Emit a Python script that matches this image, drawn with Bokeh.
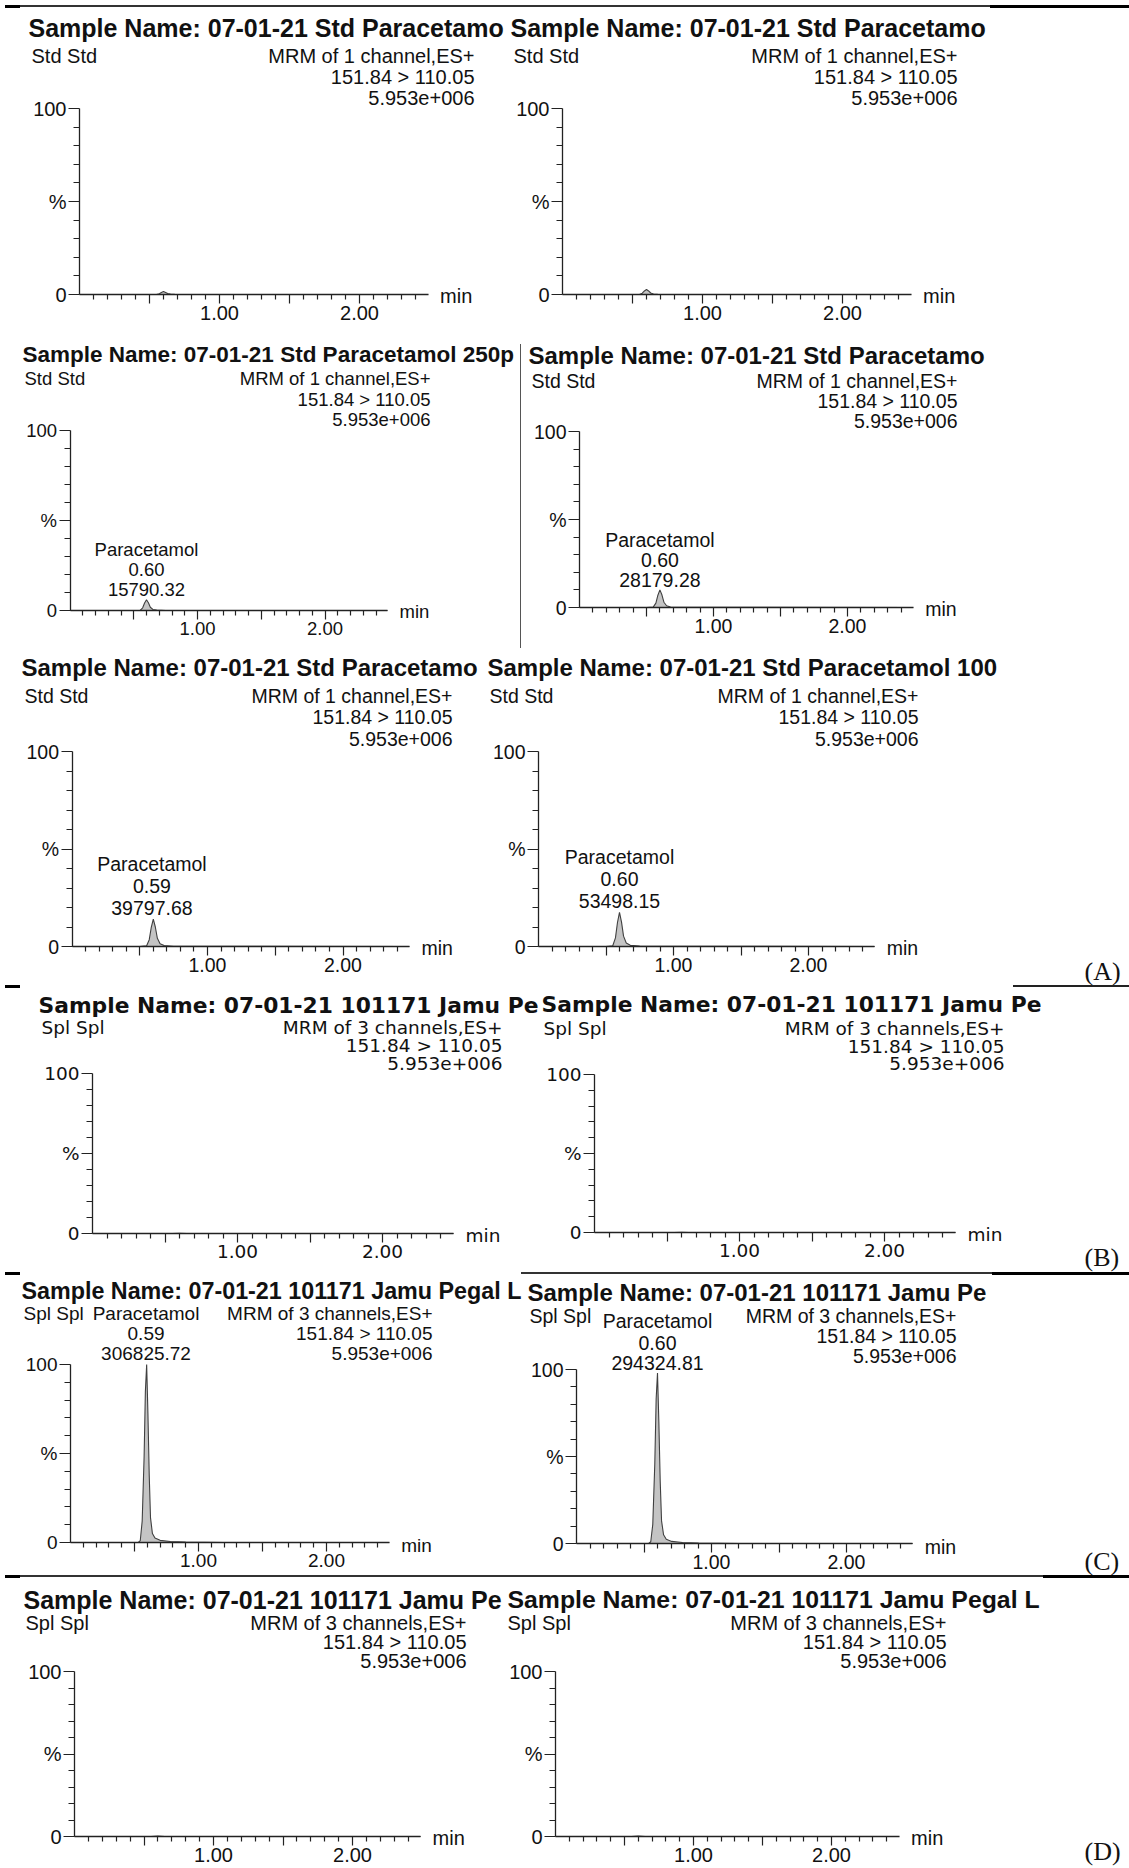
from bokeh.plotting import figure
from bokeh.layouts import row, column
from bokeh.models import Range1d, FixedTicker, Label, Div
from bokeh.embed import file_html
from bokeh.resources import INLINE

# ---------------- data ----------------
# retention time (min) of the standard traces (panel A)
t_std = [0.00, 0.50, 0.55, 0.57, 0.585, 0.60, 0.615, 0.63, 0.65, 0.68, 0.75, 2.49]
# intensity, % of 5.953e+006
i_std_1 = [0, 0, 0, 0.4, 1.1, 1.6, 1.1, 0.5, 0.2, 0.05, 0, 0]
i_std_2 = [0, 0, 0, 0.7, 1.9, 2.7, 1.9, 0.8, 0.3, 0.1, 0, 0]
i_std_3 = [0, 0, 0.1, 1.5, 4.2, 6.0, 4.3, 1.8, 0.6, 0.2, 0, 0]
i_std_4 = [0, 0, 0.2, 2.5, 7.0, 10.0, 7.2, 3.0, 1.0, 0.3, 0.1, 0]
i_std_5 = [0, 0, 0.3, 3.5, 9.8, 14.0, 10.0, 4.2, 1.4, 0.5, 0.1, 0]
i_std_6 = [0, 0, 0.4, 4.4, 12.3, 17.5, 12.5, 5.3, 1.8, 0.6, 0.2, 0]
# spiked sample traces (panel C)
t_spl_1 = [0.00, 0.53, 0.545, 0.56, 0.575, 0.585, 0.595, 0.605, 0.615, 0.625, 0.64, 0.66, 0.70, 0.78, 0.90, 1.20, 2.49]
i_spl_1 = [0, 0, 1, 12, 48, 85, 100, 72, 38, 14, 5, 2.5, 1.2, 0.6, 0.3, 0, 0]
t_spl_2 = [0.00, 0.535, 0.55, 0.565, 0.58, 0.59, 0.60, 0.61, 0.62, 0.63, 0.645, 0.665, 0.705, 0.785, 0.905, 1.205, 2.49]
i_spl_2 = [0, 0, 1, 11, 46, 83, 98, 70, 36, 13, 5, 2.4, 1.2, 0.6, 0.3, 0, 0]
# blank sample traces (panels B and D)
t_blank = [0.00, 0.55, 0.60, 0.65, 2.49]
i_blank = [0, 0, 0.2, 0, 0]

peak_name = "Paracetamol"
peak_rt = ["0.60", "0.60", "0.59", "0.60", "0.59", "0.60"]
peak_area = ["15790.32", "28179.28", "39797.68", "53498.15", "306825.72", "294324.81"]

titles = [
    "Sample Name: 07-01-21 Std Paracetamo",
    "Sample Name: 07-01-21 Std Paracetamol 250p",
    "Sample Name: 07-01-21 Std Paracetamol 100",
    "Sample Name: 07-01-21 101171 Jamu Pe",
    "Sample Name: 07-01-21 101171 Jamu Pegal L",
]
mrm_1 = ["MRM of 1 channel,ES+", "151.84 > 110.05", "5.953e+006"]
mrm_3 = ["MRM of 3 channels,ES+", "151.84 > 110.05", "5.953e+006"]
section_labels = ["(A)", "(B)", "(C)", "(D)"]

x_major = [0.5, 1.0, 1.5, 2.0]
x_labels = {0.5: "", 1.0: "1.00", 1.5: "", 2.0: "2.00"}
x_minor = [k / 10 for k in range(1, 25) if k % 5]
y_major = [0, 50, 100]
y_labels = {0: "0", 50: "%", 100: "100"}
y_minor = [10, 20, 30, 40, 60, 70, 80, 90]

X_END = 2.49

FONT = "Liberation Sans"
WIDE = "DejaVu Sans"
SERIF = "Liberation Serif"
INK = "#111111"

# ---------------- panel geometry (page pixels) ----------------
A = dict(dyb=7, dyt=8.5)
B = dict(dyb=6, dyt=7)
C = dict(dyb=5, dyt=5)
D = dict(dyb=6.5, dyt=8)
P = [
    # row A1
    dict(A, fx0=0, fx1=508, by0=8, by1=332, x1p=219, x2p=359, y100p=108, y0p=294,
         title=titles[0], tx=28, ty=36, tfont=FONT, tsize=25, sub="Std Std", sx=31, sy=62,
         mrm=mrm_1, mx=474, my=[62, 83, 104], bfont=FONT, bsize=20, t=t_std, i=i_std_1),
    dict(A, fx0=508, fx1=1129, by0=8, by1=332, x1p=702, x2p=842, y100p=108, y0p=294,
         title=titles[0], tx=510, ty=36, tfont=FONT, tsize=25, sub="Std Std", sx=513, sy=62,
         mrm=mrm_1, mx=957, my=[62, 83, 104], bfont=FONT, bsize=20, t=t_std, i=i_std_2),
    # row A2
    dict(A, fx0=0, fx1=520, by0=332, by1=648, x1p=197, x2p=324.5, y100p=430, y0p=610,
         title=titles[1], tx=22, ty=362, tfont=FONT, tsize=22.5, sub="Std Std", sx=24, sy=385,
         mrm=mrm_1, mx=430, my=[385, 406, 426], bfont=FONT, bsize=18.5, t=t_std, i=i_std_3,
         peak=0, poff=[43, 23, 3]),
    dict(A, fx0=521, fx1=1129, by0=332, by1=648, x1p=713, x2p=847, y100p=431, y0p=607,
         title=titles[0], tx=528, ty=363, tfont=FONT, tsize=24, sub="Std Std", sx=531, sy=387,
         mrm=mrm_1, mx=957, my=[387, 407, 427], bfont=FONT, bsize=19.5, t=t_std, i=i_std_4,
         peak=1, poff=[43, 23, 3]),
    # row A3
    dict(A, fx0=0, fx1=486, by0=648, by1=985, x1p=207, x2p=342.5, y100p=751, y0p=946,
         title=titles[0], tx=21, ty=675, tfont=FONT, tsize=24, sub="Std Std", sx=24, sy=702,
         mrm=mrm_1, mx=452, my=[702, 723, 745], bfont=FONT, bsize=19.5, t=t_std, i=i_std_5,
         peak=2, poff=[48, 26, 4]),
    dict(A, fx0=486, fx1=1129, by0=648, by1=985, x1p=673, x2p=808, y100p=751, y0p=946,
         title=titles[2], tx=487, ty=675, tfont=FONT, tsize=24, sub="Std Std", sx=489, sy=702,
         mrm=mrm_1, mx=918, my=[702, 723, 745], bfont=FONT, bsize=19.5, t=t_std, i=i_std_6,
         peak=3, poff=[48, 26, 4], side=0, sidey=978),
    # row B
    dict(B, fx0=0, fx1=539, by0=988, by1=1272, x1p=237, x2p=382, y100p=1073, y0p=1233,
         title=titles[3], tx=38, ty=1012, tfont=WIDE, tsize=21.8, sub="Spl Spl", sx=41, sy=1033,
         mrm=mrm_3, mx=502, my=[1033, 1051, 1069], bfont=WIDE, bsize=18.5, t=t_blank, i=i_blank),
    dict(B, fx0=539, fx1=1129, by0=988, by1=1272, x1p=739, x2p=884, y100p=1074, y0p=1232,
         title=titles[3], tx=541, ty=1011, tfont=WIDE, tsize=21.8, sub="Spl Spl", sx=543, sy=1034,
         mrm=mrm_3, mx=1004, my=[1034, 1052, 1069], bfont=WIDE, bsize=18.5, t=t_blank, i=i_blank,
         side=1, sidey=1263),
    # row C
    dict(C, fx0=0, fx1=525, by0=1275, by1=1575, x1p=198, x2p=326, y100p=1364, y0p=1542,
         title=titles[4], tx=21, ty=1295, tfont=FONT, tsize=23.3, sub="Spl Spl", sx=23, sy=1318,
         mrm=mrm_3, mx=432, my=[1318, 1338, 1358], bfont=FONT, bsize=19, t=t_spl_1, i=i_spl_1,
         peak=4, poff=[46, 26, 6]),
    dict(C, fx0=525, fx1=1129, by0=1275, by1=1575, x1p=711, x2p=846, y100p=1369, y0p=1543,
         title=titles[3], tx=527, ty=1297, tfont=FONT, tsize=24, sub="Spl Spl", sx=529, sy=1320,
         mrm=mrm_3, mx=956, my=[1320, 1340, 1360], bfont=FONT, bsize=19.5, t=t_spl_2, i=i_spl_2,
         peak=5, poff=[47, 25, 5], side=2, sidey=1566),
    # row D
    dict(D, fx0=0, fx1=505, by0=1578, by1=1868, x1p=213, x2p=352, y100p=1671, y0p=1836,
         title=titles[3], tx=23, ty=1607, tfont=FONT, tsize=25, sub="Spl Spl", sx=25, sy=1629,
         mrm=mrm_3, mx=466, my=[1629, 1648, 1667], bfont=FONT, bsize=20, t=t_blank, i=i_blank),
    dict(D, fx0=505, fx1=1129, by0=1578, by1=1868, x1p=693, x2p=831, y100p=1671, y0p=1836,
         title=titles[4], tx=507, ty=1607, tfont=FONT, tsize=24.8, sub="Spl Spl", sx=507, sy=1629,
         mrm=mrm_3, mx=946, my=[1629, 1648, 1667], bfont=FONT, bsize=20, t=t_blank, i=i_blank,
         side=3, sidey=1857),
]


def make_panel(c):
    W = c["fx1"] - c["fx0"]
    H = c["by1"] - c["by0"]
    ppm = c["x2p"] - c["x1p"]          # pixels per minute
    t0 = c["x1p"] - ppm                # page x of t = 0
    ppp = (c["y0p"] - c["y100p"]) / 100.0   # pixels per percent
    xr = Range1d((c["fx0"] - t0) / ppm, (c["fx1"] - t0) / ppm)
    yr = Range1d((c["y0p"] - c["by1"]) / ppp, (c["y0p"] - c["by0"]) / ppp)
    p = figure(width=W, height=H, x_range=xr, y_range=yr,
               min_border=0, min_border_left=0, min_border_right=0,
               min_border_top=0, min_border_bottom=0,
               toolbar_location=None, output_backend="svg", outline_line_color=None,
               background_fill_color="white", border_fill_color="white")
    p.grid.visible = False
    bs = c["bsize"]
    bf = c["bfont"]
    dyb = c["dyb"]

    def put(text, px, py, size, font, style="normal", align="left", dy=dyb):
        p.add_layout(Label(x=px - c["fx0"], y=c["by1"] - (py - dy), x_units="screen", y_units="screen",
                           text=text, text_font=font, text_font_size=f"{size}px",
                           text_font_style=style, text_align=align,
                           text_baseline="alphabetic", text_color=INK))

    # axes, drawn at the data origin and limited to the plotted span
    for ax in (p.xaxis[0], p.yaxis[0]):
        ax.axis_line_color = "#222222"
        ax.axis_line_width = 1.3
        ax.major_tick_line_color = "#222222"
        ax.minor_tick_line_color = "#222222"
        ax.major_tick_line_width = 1.2
        ax.minor_tick_line_width = 1.2
        ax.major_tick_in = 0
        ax.minor_tick_in = 0
        ax.major_label_text_font = bf
        ax.major_label_text_font_size = f"{bs}px"
        ax.major_label_text_color = INK
        ax.major_label_standoff = 2
        ax.fixed_location = 0
    xa = p.xaxis[0]
    xa.bounds = (0, X_END)
    xa.ticker = FixedTicker(ticks=x_major, minor_ticks=x_minor)
    xa.major_label_overrides = x_labels
    xa.major_tick_out = 9
    xa.minor_tick_out = 5
    ya = p.yaxis[0]
    ya.bounds = (0, 100)
    ya.ticker = FixedTicker(ticks=y_major, minor_ticks=y_minor)
    ya.major_label_overrides = y_labels
    ya.major_tick_out = 11
    ya.minor_tick_out = 6

    # trace
    p.varea(x=c["t"], y1=0, y2=c["i"], fill_color="#c4c4c4")
    p.line(c["t"], c["i"], line_color="#404040", line_width=1.1)

    # header texts
    put(c["title"], c["tx"], c["ty"], c["tsize"], c["tfont"], style="bold", dy=c["dyt"])
    put(c["sub"], c["sx"], c["sy"], bs, bf)
    for s, yy in zip(c["mrm"], c["my"]):
        put(s, c["mx"], yy, bs, bf, align="right")
    put("min", t0 + X_END * ppm + 12, c["y0p"] + 8, bs, bf)

    # peak annotation
    if c.get("peak") is not None:
        k = c["peak"]
        apex = max(c["i"])
        for s, off in zip([peak_name, peak_rt[k], peak_area[k]], c["poff"]):
            p.add_layout(Label(x=float(peak_rt[k]), y=apex, y_offset=off + dyb, text=s,
                               text_font=bf, text_font_size=f"{bs}px", text_align="center",
                               text_baseline="alphabetic", text_color=INK))
    if c.get("side") is not None:
        put(section_labels[c["side"]], 1084, c["sidey"], 26, SERIF)
    return p


def bar(w, h, color=None):
    st = {"background-color": color} if color else {}
    return Div(text="", width=w, height=h, margin=0, styles=st)


figs = [make_panel(c) for c in P]

top_gap = bar(1129, 5)
top_sep = row(bar(5, 3), bar(15, 3, "#000000"), bar(970, 2, "#333333"), bar(139, 3, "#000000"))
sep1 = row(bar(5, 3), bar(15, 3, "#000000"), bar(993, 3), bar(116, 2, "#222222"))
sep2 = row(bar(5, 3), bar(15, 3, "#000000"), bar(501, 3), bar(471, 2, "#333333"), bar(137, 3, "#000000"))
sep3 = row(bar(5, 3), bar(15, 3, "#000000"), bar(1023, 2, "#333333"), bar(86, 3, "#000000"))
vline = column(bar(1, 12), bar(1, 304, "#555555"))

layout = column(
    top_gap,
    top_sep,
    row(figs[0], figs[1]),
    row(figs[2], vline, figs[3]),
    row(figs[4], figs[5]),
    sep1,
    row(figs[6], figs[7]),
    sep2,
    row(figs[8], figs[9]),
    sep3,
    row(figs[10], figs[11]),
)

open("out.html", "w").write(file_html(layout, INLINE))
